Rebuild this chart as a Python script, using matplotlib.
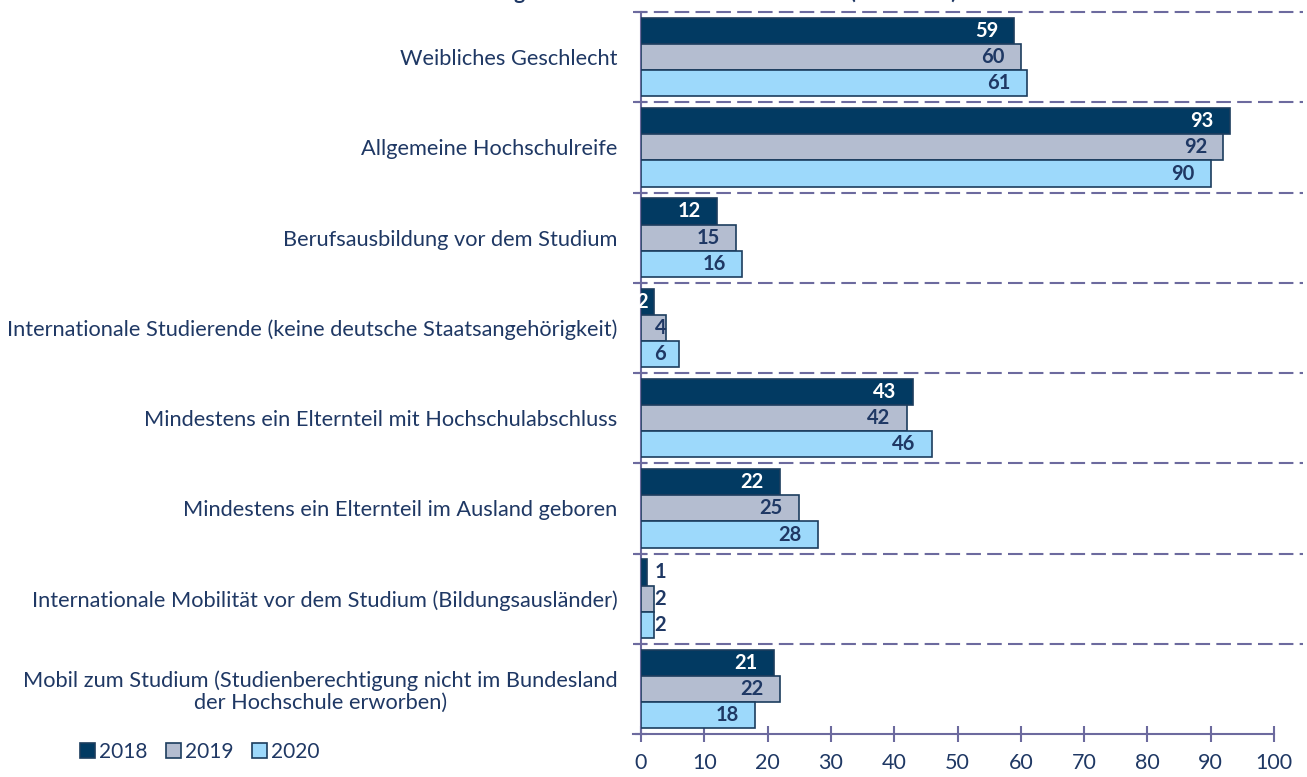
#!/usr/bin/env python3
"""Horizontal grouped bars: student characteristics 2018-2020."""

import matplotlib.pyplot as plt
import numpy as np
from matplotlib.patches import Patch

CATEGORIES = [
    "Weibliches Geschlecht",
    "Allgemeine Hochschulreife",
    "Berufsausbildung vor dem Studium",
    "Internationale Studierende (keine deutsche Staatsangehörigkeit)",
    "Mindestens ein Elternteil mit Hochschulabschluss",
    "Mindestens ein Elternteil im Ausland geboren",
    "Internationale Mobilität vor dem Studium (Bildungsausländer)",
    "Mobil zum Studium (Studienberechtigung nicht im Bundesland\nder Hochschule erworben)",
]
YEARS = ["2018", "2019", "2020"]
VALUES_2018 = [59, 93, 12, 2, 43, 22, 1, 21]
VALUES_2019 = [60, 92, 15, 4, 42, 25, 2, 22]
VALUES_2020 = [61, 90, 16, 6, 46, 28, 2, 18]
X_TICKS = list(range(0, 101, 10))
TITLE = "Zusammensetzung der Studierenden an Hochschulen (in Prozent)"

NAVY = "#023A62"
GREY = "#B4BDD0"
LIGHT = "#9DD9FB"
EDGE = "#1C3D5E"
TEXT = "#1F3864"
PURPLE = "#6C6A9E"

FONT = ["Lato", "DejaVu Sans"]


def main() -> None:
    plt.rcParams["font.family"] = FONT
    fig = plt.figure(figsize=(13.07, 7.77), dpi=100)
    fig.patch.set_facecolor("white")
    ax = fig.add_axes([641 / 1307, 1 - 734 / 777, 633 / 1307, 722 / 777])

    y = np.arange(len(CATEGORIES))
    height = 0.29
    series = [VALUES_2018, VALUES_2019, VALUES_2020]
    colors = [NAVY, GREY, LIGHT]
    for i, (vals, col) in enumerate(zip(series, colors)):
        pos = y + (i - 1) * height
        ax.barh(pos, vals, height=height, color=col, edgecolor=EDGE, linewidth=1.2, zorder=3)
        for p, v in zip(pos, vals):
            x_right = max(v - 2.6, 4)
            tcol = TEXT
            if i == 0 and v >= 2:
                tcol = "white"
                x_right = min(x_right, v - 0.9)
            ax.text(x_right, p, str(v), ha="right", va="center", fontsize=14.5,
                    fontweight="bold", color=tcol, zorder=4)

    ax.set_xlim(0, 100)
    ax.set_ylim(len(CATEGORIES) - 0.5, -0.5)

    # dashed separators between groups
    bounds = np.arange(-0.5, len(CATEGORIES) - 0.5, 1.0)
    ax.hlines(bounds, -1.3, 104.6, colors=PURPLE, linestyles=(0, (7, 3)), linewidth=1.5,
              clip_on=False, zorder=2)

    for side in ["top", "right"]:
        ax.spines[side].set_visible(False)
    for side in ["left", "bottom"]:
        ax.spines[side].set_color(PURPLE)
        ax.spines[side].set_linewidth(1.5)
    ax.spines["bottom"].set_bounds(-1.3, 100)

    ax.set_yticks(y)
    ax.set_yticklabels(CATEGORIES, fontsize=15.7, color=TEXT, multialignment="center",
                       linespacing=1.1)
    ax.tick_params(axis="y", length=0, pad=17)
    ax.set_yticks(np.arange(-0.5, len(CATEGORIES), 1.0), minor=True)
    ax.tick_params(axis="y", which="minor", direction="inout", length=9, width=1.5, color=PURPLE)

    ax.set_xticks(X_TICKS)
    ax.set_xticklabels([str(t) for t in X_TICKS], fontsize=15.5, color=TEXT)
    ax.tick_params(axis="x", direction="inout", length=12, width=1.5, color=PURPLE, pad=8)

    handles = [Patch(facecolor=c, edgecolor=EDGE, linewidth=1.2, label=lab)
               for c, lab in zip(colors, YEARS)]
    fig.legend(handles=handles, loc="center left", bbox_to_anchor=(70 / 1307, 1 - 752 / 777),
               ncol=3, frameon=False, fontsize=15, handlelength=0.7, handleheight=0.7,
               handletextpad=0.2, columnspacing=0.9, borderpad=0, labelcolor=TEXT)

    fig.text(0.5, 1 + 1.0 / 777, TITLE, ha="center", va="baseline", fontsize=15,
             fontweight="bold", color=TEXT)

    fig.savefig("out.png", dpi=100, facecolor="white")
    plt.close(fig)


if __name__ == "__main__":
    main()
